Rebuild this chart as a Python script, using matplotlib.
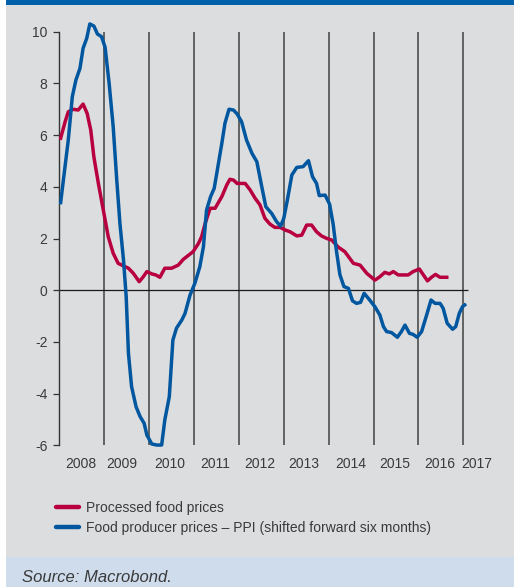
import matplotlib
matplotlib.use('Agg')
import matplotlib.pyplot as plt
from matplotlib.patches import Rectangle
from matplotlib.lines import Line2D

plt.rcParams['font.family'] = ['Liberation Sans', 'DejaVu Sans']
plt.rcParams['axes.unicode_minus'] = False

# Processed food prices (red)
food_years = [2008.03, 2008.13, 2008.20, 2008.31, 2008.42, 2008.53, 2008.62, 2008.70,
              2008.77, 2008.87, 2008.98, 2009.09, 2009.20, 2009.31, 2009.43, 2009.54,
              2009.65, 2009.78, 2009.87, 2009.95, 2010.06, 2010.15, 2010.24, 2010.35,
              2010.50, 2010.65, 2010.76, 2010.84, 2010.98, 2011.10, 2011.17, 2011.25,
              2011.36, 2011.47, 2011.62, 2011.73, 2011.80, 2011.88, 2011.96, 2012.14,
              2012.25, 2012.36, 2012.47, 2012.58, 2012.69, 2012.80, 2012.92, 2013.03,
              2013.14, 2013.29, 2013.40, 2013.51, 2013.62, 2013.73, 2013.84, 2013.96,
              2014.07, 2014.21, 2014.36, 2014.55, 2014.70, 2014.85, 2015.03, 2015.14,
              2015.25, 2015.35, 2015.44, 2015.55, 2015.77, 2015.88, 2016.02, 2016.11,
              2016.20, 2016.29, 2016.38, 2016.48, 2016.63]
food_values = [5.88, 6.52, 6.90, 7.00, 6.97, 7.20, 6.84, 6.20,
               5.16, 4.13, 3.10, 2.07, 1.43, 1.04, 0.94, 0.85,
               0.65, 0.33, 0.52, 0.72, 0.63, 0.59, 0.50, 0.85,
               0.85, 0.97, 1.19, 1.30, 1.49, 1.81, 2.07, 2.59,
               3.17, 3.17, 3.62, 4.07, 4.29, 4.26, 4.13, 4.13,
               3.88, 3.56, 3.30, 2.78, 2.56, 2.43, 2.43, 2.33,
               2.26, 2.10, 2.13, 2.52, 2.52, 2.26, 2.10, 2.00,
               1.94, 1.67, 1.49, 1.04, 0.97, 0.65, 0.39, 0.52,
               0.69, 0.63, 0.72, 0.59, 0.59, 0.72, 0.82, 0.59,
               0.36, 0.50, 0.61, 0.50, 0.50]

# Food producer prices - PPI, shifted forward six months (blue)
ppi_years = [2008.03, 2008.10, 2008.20, 2008.29, 2008.37, 2008.46, 2008.53, 2008.61,
             2008.68, 2008.77, 2008.85, 2008.94, 2009.02, 2009.11, 2009.20, 2009.28,
             2009.35, 2009.43, 2009.49, 2009.54, 2009.61, 2009.71, 2009.80, 2009.89,
             2009.95, 2010.06, 2010.17, 2010.28, 2010.35, 2010.45, 2010.53, 2010.61,
             2010.73, 2010.80, 2010.91, 2011.02, 2011.13, 2011.21, 2011.28, 2011.37,
             2011.45, 2011.52, 2011.62, 2011.69, 2011.78, 2011.88, 2011.96, 2012.06,
             2012.17, 2012.29, 2012.40, 2012.51, 2012.60, 2012.73, 2012.84, 2012.93,
             2013.00, 2013.08, 2013.18, 2013.29, 2013.43, 2013.55, 2013.64, 2013.73,
             2013.79, 2013.92, 2014.02, 2014.10, 2014.17, 2014.25, 2014.34, 2014.44,
             2014.53, 2014.62, 2014.71, 2014.79, 2014.90, 2015.03, 2015.14, 2015.22,
             2015.29, 2015.40, 2015.53, 2015.62, 2015.70, 2015.80, 2015.88, 2015.97,
             2016.07, 2016.17, 2016.28, 2016.37, 2016.48, 2016.55, 2016.64, 2016.76,
             2016.83, 2016.91, 2016.98, 2017.03]
ppi_values = [3.39, 4.39, 5.81, 7.49, 8.13, 8.58, 9.36, 9.74,
              10.30, 10.22, 9.91, 9.81, 9.40, 8.00, 6.33, 4.26,
              2.59, 1.17, -0.25, -2.44, -3.73, -4.51, -4.89, -5.15,
              -5.60, -5.95, -5.99, -5.99, -5.02, -4.12, -1.93, -1.47,
              -1.15, -0.90, -0.20, 0.27, 0.91, 1.68, 3.10, 3.62,
              3.94, 4.65, 5.68, 6.46, 7.00, 6.97, 6.82, 6.52,
              5.81, 5.30, 4.97, 4.00, 3.23, 2.97, 2.65, 2.48,
              2.78, 3.49, 4.46, 4.75, 4.78, 5.01, 4.39, 4.13,
              3.66, 3.68, 3.33, 2.55, 1.56, 0.60, 0.14, 0.07,
              -0.41, -0.51, -0.47, -0.12, -0.35, -0.64, -0.96, -1.41,
              -1.60, -1.64, -1.82, -1.60, -1.35, -1.67, -1.71, -1.82,
              -1.60, -1.03, -0.38, -0.51, -0.51, -0.70, -1.28, -1.51,
              -1.41, -0.89, -0.64, -0.57]

year_labels = ['2008', '2009', '2010', '2011', '2012', '2013', '2014', '2015', '2016', '2017']
year_label_pos = [2008.48, 2009.40, 2010.45, 2011.47, 2012.47, 2013.45, 2014.50, 2015.48, 2016.48, 2017.30]
year_lines = [2009, 2010, 2011, 2012, 2013, 2014, 2015, 2016, 2017]
y_ticks = [-6, -4, -2, 0, 2, 4, 6, 8, 10]

RED = '#b8003f'
BLUE = '#0057a0'
GREY_BG = '#dcdddf'
TEXT = '#3a3a3a'

W, H = 514, 587
fig = plt.figure(figsize=(W / 100, H / 100), dpi=100, facecolor='white')

# background bands: grey panel, blue header strip, light blue source band
fig.patches.append(Rectangle((6 / W, 0), 1 - 6 / W, 1, transform=fig.transFigure,
                             facecolor=GREY_BG, edgecolor='none', zorder=-3))
fig.patches.append(Rectangle((6 / W, 1 - 5 / H), 1 - 6 / W, 5 / H, transform=fig.transFigure,
                             facecolor='#0060a9', edgecolor='none', zorder=-2))
fig.patches.append(Rectangle((6 / W, 0), 1 - 6 / W, 30 / H, transform=fig.transFigure,
                             facecolor='#cfdcec', edgecolor='none', zorder=-2))

ax = fig.add_axes([59.3 / W, 0.2282, 431.0 / W, 0.7398])
ax.set_facecolor('none')
ax.set_xlim(2008, 2017.6)
ax.set_ylim(-6.3, 10.5)

ax.vlines(year_lines, -6, 10, color='#4d4d4d', lw=1.2, zorder=1)
ax.hlines(0, 2008, 2017.1, color='#1a1a1a', lw=0.9, zorder=1)

ax.plot(food_years, food_values, color=RED, lw=2.5, solid_joinstyle='round', zorder=3)
ax.plot(ppi_years, ppi_values, color=BLUE, lw=2.5, solid_joinstyle='round', zorder=4)

for s in ['top', 'right', 'bottom']:
    ax.spines[s].set_visible(False)
ax.spines['left'].set_bounds(-6, 10)
ax.spines['left'].set_color('#333333')
ax.spines['left'].set_linewidth(1.0)

ax.set_yticks(y_ticks)
ax.set_yticklabels([str(v) for v in y_ticks])
ax.tick_params(axis='y', length=4.5, width=0.9, color='#333333', pad=4,
               labelsize=10, labelcolor=TEXT)
ax.set_xticks(year_label_pos)
ax.set_xticklabels(year_labels)
ax.tick_params(axis='x', length=0, pad=3, labelsize=10, labelcolor=TEXT)

handles = [Line2D([], [], color=RED, lw=3.2, solid_capstyle='round'),
           Line2D([], [], color=BLUE, lw=3.2, solid_capstyle='round')]
labels = ['Processed food prices',
          'Food producer prices \u2013 PPI (shifted forward six months)']
fig.legend(handles, labels, loc='upper left', bbox_to_anchor=(50 / W, 1 - 495 / H),
           frameon=False, fontsize=10, handlelength=1.7, handletextpad=0.5,
           labelspacing=0.45, labelcolor=TEXT, borderaxespad=0)

fig.text(22 / W, 9 / H, 'Source: Macrobond.', fontsize=12, style='italic',
         color=TEXT, va='center', ha='left')

fig.savefig('out.png', dpi=100, facecolor=fig.get_facecolor())
